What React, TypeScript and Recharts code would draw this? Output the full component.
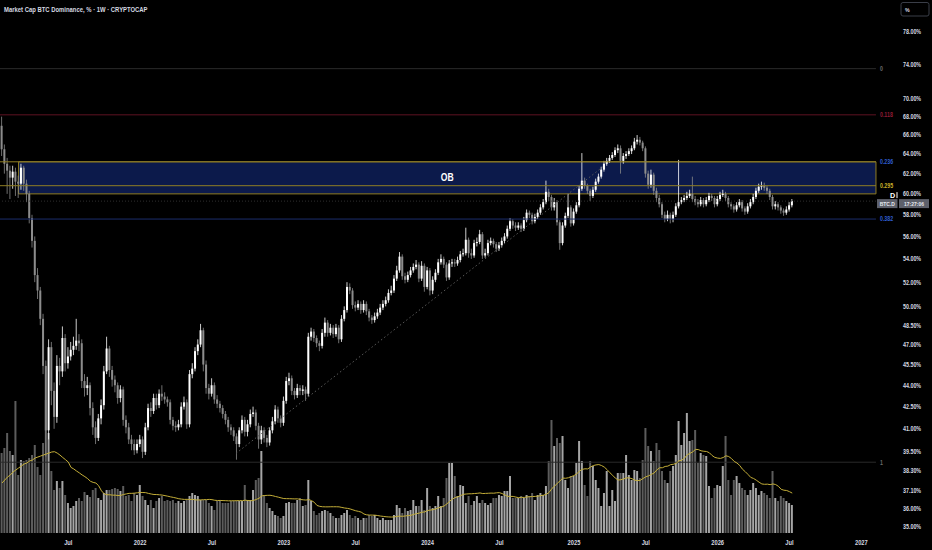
import React from 'react';
import {
  ComposedChart,
  Bar,
  Line,
  XAxis,
  YAxis,
  ReferenceLine,
  ReferenceArea,
  Cell,
} from 'recharts';

type Row = [number, number, number]; // [close, high, low]

// ---------- DATA (weekly) ----------
const FIRST_WEEK_UTC = Date.UTC(2021, 0, 18);
const FIRST_OPEN = 67.0;

const candles2021: Row[] = [
  [64.5, 68.0, 63.8], [63.0, 65.0, 62.0], [62.3, 63.6, 60.0], [61.6, 62.8, 59.5], [62.2, 62.8, 60.5],
  [61.2, 62.6, 59.8], [61.0, 61.8, 59.6], [62.6, 63.0, 60.4], [61.0, 62.8, 60.3], [60.0, 61.4, 59.2],
  [57.7, 60.3, 57.2], [55.6, 58.0, 55.0], [52.6, 56.0, 52.0], [51.3, 53.2, 50.6], [49.0, 51.6, 48.5],
  [45.4, 49.4, 44.8], [40.9, 45.8, 39.2], [46.8, 47.4, 40.3], [43.6, 47.2, 42.6], [41.8, 44.2, 41.0],
  [45.4, 46.2, 41.4], [45.0, 46.0, 44.0], [47.5, 48.4, 44.6], [45.6, 47.8, 45.0], [46.1, 46.8, 45.2],
  [46.6, 47.2, 45.8], [46.9, 47.6, 46.2], [47.3, 49.0, 46.6], [47.1, 47.8, 46.5], [44.3, 47.4, 43.8],
  [43.8, 44.8, 43.2], [44.0, 44.6, 43.3], [42.4, 44.2, 41.9], [41.1, 42.8, 40.6], [40.4, 41.5, 40.0],
  [41.7, 42.0, 40.2], [42.6, 43.0, 41.3], [45.0, 45.4, 42.3], [46.7, 47.6, 44.8], [45.1, 46.9, 44.6],
  [44.4, 45.4, 43.9], [44.0, 44.7, 43.5], [43.1, 44.2, 42.7], [43.7, 44.0, 42.8], [41.6, 43.9, 41.2],
  [41.1, 41.9, 40.7], [40.3, 41.4, 40.0], [40.0, 40.6, 39.6], [39.6, 40.3, 39.3], [40.0, 40.3, 39.4],
];
const candles2022: Row[] = [
  [40.3, 40.6, 39.8], [39.5, 40.5, 39.1], [41.1, 41.4, 39.3], [42.4, 42.7, 40.9], [42.2, 42.8, 41.8],
  [43.1, 43.4, 42.0], [42.6, 43.4, 42.3], [43.4, 43.7, 42.4], [43.2, 44.0, 42.9], [43.0, 43.5, 42.7],
  [42.8, 43.2, 42.5], [41.6, 43.0, 41.3], [41.2, 41.8, 40.9], [41.1, 41.5, 40.8], [41.3, 41.6, 40.9],
  [42.5, 42.8, 41.1], [42.8, 43.2, 42.3], [41.3, 43.0, 41.0], [44.8, 45.1, 41.1], [45.2, 45.6, 44.5],
  [46.5, 46.8, 45.0], [47.0, 47.4, 46.2], [48.1, 48.6, 46.8], [45.5, 48.3, 45.0], [43.8, 45.8, 43.4],
  [43.4, 44.1, 43.0], [44.0, 44.5, 43.2], [43.0, 44.2, 42.7], [42.7, 43.3, 42.4], [42.4, 42.9, 42.1],
  [42.0, 42.6, 41.7], [41.6, 42.2, 41.3], [41.1, 41.8, 40.8], [40.9, 41.3, 40.6], [40.5, 41.1, 40.2],
  [40.0, 40.7, 39.0], [40.9, 41.1, 39.8], [41.6, 41.9, 40.7], [40.8, 41.8, 40.5], [41.3, 41.6, 40.5],
  [42.0, 42.3, 41.1], [42.1, 42.5, 41.8], [41.2, 42.3, 40.9], [40.3, 41.4, 39.7], [40.9, 41.2, 40.0],
  [40.4, 41.1, 40.1], [40.1, 40.6, 39.8], [40.9, 41.1, 39.9], [41.5, 41.8, 40.7], [42.3, 42.6, 41.3],
  [41.7, 42.5, 41.4], [41.4, 41.9, 41.1],
];
const candles2023: Row[] = [
  [42.9, 43.2, 41.2], [44.3, 44.6, 42.7], [44.5, 44.9, 44.0], [43.6, 44.7, 43.3], [43.3, 43.8, 43.0],
  [43.8, 44.1, 43.1], [43.6, 44.0, 43.3], [43.7, 44.0, 43.3], [43.4, 43.9, 42.9], [47.6, 47.9, 43.2],
  [48.0, 48.3, 47.3], [47.5, 48.2, 47.2], [47.1, 47.7, 46.8], [46.9, 47.3, 46.5], [47.9, 48.2, 46.7],
  [48.7, 49.1, 47.6], [47.9, 48.9, 47.6], [48.3, 48.6, 47.7], [47.8, 48.5, 47.5], [48.3, 48.6, 47.6],
  [47.4, 48.5, 47.1], [49.0, 49.3, 47.2], [49.7, 50.0, 48.8], [51.6, 52.0, 49.5], [51.3, 51.9, 51.0],
  [50.1, 51.5, 49.8], [49.9, 50.4, 49.6], [50.2, 50.5, 49.7], [49.7, 50.4, 49.4], [50.2, 50.5, 49.5],
  [49.6, 50.4, 49.3], [49.1, 49.8, 48.8], [48.9, 49.3, 48.6], [49.2, 49.5, 48.7], [49.5, 49.8, 49.0],
  [49.9, 50.2, 49.3], [50.2, 50.5, 49.7], [50.5, 50.8, 50.0], [51.1, 51.4, 50.3], [51.3, 51.7, 50.9],
  [52.3, 52.6, 51.1], [53.0, 53.4, 52.1], [54.2, 54.6, 52.8], [52.5, 54.4, 52.2], [52.2, 52.8, 51.9],
  [52.6, 52.9, 52.0], [53.0, 53.3, 52.4], [53.3, 53.6, 52.8], [53.5, 53.9, 53.1], [52.3, 53.7, 52.0],
  [53.4, 53.8, 52.1], [51.6, 53.6, 51.2],
];
const candles2024: Row[] = [
  [53.0, 53.3, 51.4], [51.3, 53.2, 50.9], [52.2, 52.5, 51.0], [52.8, 53.1, 52.0], [53.7, 54.0, 52.6],
  [54.0, 54.4, 53.5], [53.5, 54.2, 53.2], [52.4, 53.7, 52.1], [53.6, 53.9, 52.2], [53.7, 54.0, 53.3],
  [53.6, 54.0, 53.3], [53.9, 54.2, 53.4], [54.4, 54.7, 53.7], [54.5, 54.9, 54.2], [55.7, 56.8, 54.3],
  [54.5, 55.9, 54.1], [54.3, 54.9, 54.0], [55.4, 55.7, 54.1], [55.5, 55.9, 55.1], [56.2, 56.6, 55.3],
  [54.3, 56.4, 54.0], [54.5, 54.9, 54.1], [55.4, 55.7, 54.3], [55.6, 55.9, 55.2], [55.3, 55.8, 55.0],
  [54.9, 55.5, 54.6], [55.2, 55.5, 54.7], [55.6, 55.9, 55.0], [56.0, 56.3, 55.4], [56.7, 57.0, 55.8],
  [57.4, 57.7, 56.5], [57.0, 57.6, 56.7], [56.8, 57.3, 56.5], [57.0, 57.3, 56.6], [56.7, 57.2, 56.4],
  [57.5, 57.8, 56.5], [58.2, 58.5, 57.3], [58.0, 58.4, 57.7], [57.4, 58.2, 57.1], [57.8, 58.1, 57.2],
  [58.2, 58.5, 57.6], [58.7, 59.0, 58.0], [59.2, 59.5, 58.5], [60.2, 61.3, 59.0], [59.7, 60.5, 59.3],
  [58.7, 59.9, 58.4], [59.2, 59.6, 58.4], [57.3, 59.4, 57.0], [55.4, 57.5, 54.8], [57.0, 57.3, 55.2],
  [57.9, 58.2, 56.8], [58.7, 60.0, 57.7],
];
const candles2025: Row[] = [
  [57.2, 58.9, 56.9], [58.3, 58.6, 57.0], [58.9, 59.2, 58.1], [60.5, 60.8, 58.7], [61.3, 64.1, 60.3],
  [60.8, 61.6, 60.5], [60.3, 61.0, 60.0], [59.8, 60.5, 59.3], [60.4, 60.7, 59.6], [61.2, 61.5, 60.2],
  [61.7, 62.0, 61.0], [62.4, 62.7, 61.5], [63.0, 63.3, 62.2], [63.3, 63.6, 62.8], [63.6, 63.9, 63.1],
  [63.9, 64.2, 63.4], [64.4, 64.7, 63.7], [64.6, 65.0, 64.1], [63.3, 64.9, 62.0], [63.8, 64.1, 63.0],
  [64.0, 64.3, 63.5], [64.3, 64.6, 63.8], [64.6, 64.9, 64.0], [65.3, 65.7, 64.4], [65.5, 66.0, 65.0],
  [65.2, 65.8, 64.9], [64.6, 65.4, 64.3], [62.0, 64.8, 61.6], [60.9, 62.3, 60.5], [61.9, 62.4, 60.6],
  [60.3, 62.1, 59.9], [59.6, 60.6, 59.2], [59.0, 59.9, 58.7], [58.0, 59.2, 57.7], [57.6, 58.3, 57.3],
  [58.0, 58.4, 57.4], [57.6, 58.2, 57.2], [58.0, 58.3, 57.3], [58.8, 59.1, 57.8], [59.2, 63.4, 58.6],
  [59.4, 59.7, 59.0], [59.6, 59.9, 59.2], [59.8, 60.2, 59.4], [60.0, 60.4, 59.6], [59.5, 61.7, 59.2],
  [59.2, 59.8, 58.9], [59.0, 59.5, 58.7], [59.4, 59.7, 58.8], [59.0, 59.6, 58.7], [59.4, 59.7, 58.8],
  [59.8, 60.1, 59.2], [59.6, 60.0, 59.3],
];
const candles2026: Row[] = [
  [59.0, 59.8, 58.7], [59.5, 59.8, 58.8], [59.9, 60.2, 59.3], [60.0, 60.4, 59.7], [59.6, 60.2, 59.3],
  [59.0, 59.8, 58.7], [58.8, 59.2, 58.5], [58.5, 59.0, 58.2], [58.9, 59.2, 58.3], [59.2, 59.5, 58.7],
  [58.6, 59.4, 58.3], [58.3, 58.8, 58.0], [58.8, 59.1, 58.1], [59.2, 59.5, 58.6], [59.7, 60.0, 59.0],
  [60.3, 60.6, 59.5], [60.7, 61.0, 60.1], [60.8, 61.2, 60.4], [60.6, 61.1, 60.3], [60.3, 60.8, 60.0],
  [59.7, 60.5, 59.4], [58.8, 59.9, 58.5], [59.0, 59.3, 58.5], [58.7, 59.2, 58.4], [58.4, 58.9, 58.1],
  [58.2, 58.6, 57.9], [58.5, 58.8, 58.0], [58.9, 59.2, 58.3], [59.3, 59.5, 58.7],
];

// volume (relative units)
const volume2021 = [
  80, 85, 100, 82, 78, 132, 58, 73, 72, 73, 75, 78, 88, 66, 58, 90, 133, 100, 62, 43,
  52, 45, 52, 38, 30, 25, 27, 32, 35, 32, 41, 38, 36, 43, 45, 35, 33, 40, 43, 43,
  44, 45, 44, 42, 47, 37, 38, 32, 40, 38,
];
const volume2022 = [
  48, 37, 33, 28, 33, 25, 32, 35, 37, 32, 33, 32, 33, 30, 32, 30, 32, 33, 37, 40,
  38, 37, 33, 33, 33, 30, 27, 23, 32, 33, 30, 30, 30, 32, 32, 32, 32, 32, 48, 33,
  33, 43, 53, 55, 82, 38, 30, 25, 22, 18, 17, 15,
];
const volume2023 = [
  17, 30, 31, 30, 30, 33, 35, 27, 28, 53, 32, 22, 18, 20, 22, 23, 22, 20, 17, 15,
  15, 18, 20, 23, 18, 15, 17, 15, 13, 15, 15, 18, 17, 18, 15, 13, 15, 13, 13, 13,
  18, 28, 25, 20, 25, 22, 23, 33, 27, 27, 33, 23,
];
const volume2024 = [
  45, 27, 25, 27, 37, 27, 35, 55, 70, 70, 57, 37, 48, 47, 30, 37, 28, 32, 37, 30,
  33, 30, 28, 30, 35, 35, 38, 37, 42, 42, 57, 35, 35, 35, 37, 35, 38, 37, 40, 33,
  38, 40, 38, 47, 72, 113, 87, 95, 90, 97, 53, 45,
];
const volume2025 = [
  57, 57, 70, 92, 72, 48, 37, 72, 67, 53, 45, 27, 40, 62, 27, 43, 32, 60, 60, 60,
  78, 58, 53, 63, 62, 55, 73, 105, 87, 82, 72, 90, 83, 62, 53, 50, 62, 67, 78, 112,
  88, 100, 120, 92, 93, 103, 70, 80, 78, 77, 47, 35,
];
const volume2026 = [
  45, 48, 47, 67, 97, 53, 38, 53, 57, 50, 45, 43, 38, 43, 50, 45, 38, 42, 40, 38,
  35, 62, 35, 32, 37, 35, 32, 30, 28,
];
// volume MA as drawn for the first weeks (window reaches before the visible range)
const volumeMaStart = [50, 53, 56, 58, 61, 63, 65, 67, 69, 70, 72, 73, 75, 76, 77, 78, 79, 80, 81];
const MA_LENGTH = 20;

const priceTicks = [35, 36, 37.1, 38.3, 39.5, 41, 42.5, 44, 45.5, 47, 48.5, 50, 52, 54, 56, 58, 60, 62, 64, 66, 68, 70, 74, 78];
const axisMonths: [number, number][] = [
  [2021, 6], [2022, 0], [2022, 6], [2023, 0], [2023, 6], [2024, 0],
  [2024, 6], [2025, 0], [2025, 6], [2026, 0], [2026, 6], [2027, 0],
];

const fibLabels = ['0', '0.118', '0.236', '0.295', '0.382', '1'];
const fibValues = [73.5, 68.2, 63.2, 60.8, 57.6, 38.84];
const fibEndWeek = 316.3;
const obZone = { startWeek: 6, endWeek: 316.3, low: 60.0, high: 63.2, label: 'OB' };
const trendPoints: [number, number][] = [[84.7, 39.4], [217.5, 62.7]];
const badgeTexts = ['BTC.D', '17:27:06'];
const titleText = 'Market Cap BTC Dominance, % \u00b7 1W \u00b7 CRYPTOCAP';

// ---------- derived table ----------
const rows: Row[] = [...candles2021, ...candles2022, ...candles2023, ...candles2024, ...candles2025, ...candles2026];
const volumes = [...volume2021, ...volume2022, ...volume2023, ...volume2024, ...volume2025, ...volume2026];

let prevClose = FIRST_OPEN;
const data = rows.map(([close, high, low], i) => {
  const open = prevClose;
  prevClose = close;
  let ma: number;
  if (i < volumeMaStart.length) ma = volumeMaStart[i];
  else {
    let s = 0;
    for (let k = i - MA_LENGTH + 1; k <= i; k++) s += volumes[k];
    ma = s / MA_LENGTH;
  }
  return { i, open, close, high, low, range: [low, high], vol: volumes[i], up: close >= open, ma };
});
const lastClose = rows[rows.length - 1][0];

const WEEK_MS = 7 * 86400000;
const xTicks = axisMonths.map(([y, m]) => ({
  i: Math.ceil((Date.UTC(y, m, 1) - FIRST_WEEK_UTC) / WEEK_MS),
  label: m === 0 ? String(y) : 'Jul',
}));
const xTickLabel = new Map(xTicks.map((t) => [t.i, t.label]));

// ---------- styling ----------
const W = 932;
const H = 550;
const X_DOMAIN: [number, number] = [-0.72, 325.0];
const Y_DOMAIN: [number, number] = [34.63, 82.15];
const VOL_DOMAIN: [number, number] = [0, 533];
const FONT = '"Liberation Sans", Arial, sans-serif';
const AXIS_TEXT = '#d6d9e0';
const UP = '#ffffff';
const DOWN = '#8c8c8c';
const VOL_UP = '#a6a6a6';
const VOL_DOWN = '#5c5c5c';
const BOX_EDGE = '#8f7e24';
const fibStyle = [
  { line: '#2a2a2a', text: '#6a6a6a' },
  { line: '#5e1222', text: '#8e1b34' },
  { line: BOX_EDGE, text: '#2f5ed0' },
  { line: BOX_EDGE, text: '#c9b12a' },
  { line: '#1b2d6c', text: '#2f5ed0' },
  { line: '#2a2a2a', text: '#6a6a6a' },
];

const NText = ({ x, y, size, fill, anchor = 'start', sx = 0.86, weight = 400, children }: any) => (
  <text
    transform={`translate(${x},${y}) scale(${sx},1)`}
    x={0}
    y={0}
    fontSize={size}
    fill={fill}
    fontFamily={FONT}
    fontWeight={weight}
    textAnchor={anchor}
  >
    {children}
  </text>
);

const XTick = (p: any) => (
  <NText x={p.x} y={p.y + 12.2} size={7} fill={AXIS_TEXT} anchor="middle" weight={700} sx={0.82}>
    {xTickLabel.get(p.payload.value) ?? ''}
  </NText>
);

const YTick = (p: any) => (
  <NText x={p.x + 3} y={p.y + 2.4} size={6.7} fill={AXIS_TEXT} weight={700} sx={0.8}>
    {`${Number(p.payload.value).toFixed(2)}%`}
  </NText>
);

const Candle = (props: any) => {
  const { x, y, width, height, payload } = props;
  if (!payload || x == null || y == null) return null;
  const { open, close, high, low } = payload;
  const lh = Math.log(high);
  const ll = Math.log(low);
  const toY = (v: number) => (height > 0 && lh !== ll ? y + ((lh - Math.log(v)) / (lh - ll)) * height : y);
  const yo = toY(open);
  const yc = toY(close);
  const top = Math.min(yo, yc);
  const bh = Math.max(0.9, Math.abs(yo - yc));
  const color = close >= open ? UP : DOWN;
  const cx = x + width / 2;
  return (
    <g>
      <line x1={cx} x2={cx} y1={y} y2={y + Math.max(height, 0.5)} stroke={color} strokeWidth={0.8} />
      <rect x={x} y={top} width={width} height={bh} fill={color} />
    </g>
  );
};

const fibLabel = (idx: number) => (props: any) => {
  const vb = props.viewBox || {};
  const xr = (vb.x ?? 0) + (vb.width ?? 0) + 4;
  const yc = (vb.y ?? 0) + (vb.height ?? 0) / 2 + 2.3;
  return (
    <NText x={xr} y={yc} size={6.6} fill={fibStyle[idx].text} weight={700} sx={0.8}>
      {fibLabels[idx]}
    </NText>
  );
};

const obLabel = (props: any) => {
  const vb = props.viewBox || {};
  return (
    <NText x={vb.x + vb.width / 2} y={vb.y + vb.height / 2 + 3.6} size={10} fill="#ffffff" anchor="middle" sx={0.86} weight={700}>
      {obZone.label}
    </NText>
  );
};

const priceBadge = (props: any) => {
  const vb = props.viewBox || {};
  const right = (vb.x ?? 0) + (vb.width ?? 0);
  const y = vb.y ?? 0;
  return (
    <g>
      <NText x={right - 10} y={y - 3} size={8} fill="#ffffff" weight={700} sx={0.9}>D</NText>
      <rect x={right - 3.5} y={y - 9} width={1} height={6} fill="#ffffff" />
      <rect x={right - 23} y={y - 2} width={20.5} height={9} fill="#5d606b" />
      <NText x={right - 12.8} y={y + 4.6} size={6.2} fill="#e6e8ee" anchor="middle" weight={700} sx={0.8}>{badgeTexts[0]}</NText>
      <rect x={right - 1} y={y - 2} width={30} height={9} fill="#5d606b" />
      <NText x={right + 14} y={y + 4.6} size={6.2} fill="#e6e8ee" anchor="middle" weight={700} sx={0.8}>{badgeTexts[1]}</NText>
    </g>
  );
};

export default function App() {
  return (
    <div style={{ position: 'fixed', left: 0, top: 0, right: 0, bottom: 0, background: '#000', overflow: 'hidden' }}>
      <div style={{ position: 'absolute', left: 0, top: 0, width: W, height: H }}>
        <ComposedChart width={W} height={H} data={data} margin={{ top: 0, right: 0, bottom: 0, left: 0 }}>
          <XAxis
            xAxisId="p"
            dataKey="i"
            type="number"
            domain={X_DOMAIN}
            allowDataOverflow
            ticks={xTicks.map((t) => t.i)}
            interval={0}
            tick={XTick}
            tickSize={0}
            tickMargin={0}
            axisLine={false}
            tickLine={false}
            height={17}
          />
          <XAxis xAxisId="v" dataKey="i" type="number" domain={X_DOMAIN} allowDataOverflow hide />
          <YAxis
            yAxisId="p"
            orientation="right"
            scale="log"
            domain={Y_DOMAIN}
            allowDataOverflow
            ticks={priceTicks}
            interval={0}
            width={32}
            tick={YTick}
            tickSize={0}
            tickMargin={0}
            axisLine={false}
            tickLine={false}
          />
          <YAxis yAxisId="v" domain={VOL_DOMAIN} allowDataOverflow hide />

          <ReferenceArea
            xAxisId="p"
            yAxisId="p"
            x1={obZone.startWeek}
            x2={obZone.endWeek}
            y1={obZone.low}
            y2={obZone.high}
            fill="#0c1a4b"
            fillOpacity={1}
            stroke={BOX_EDGE}
            strokeWidth={1}
            label={obLabel}
            ifOverflow="visible"
          />

          {fibValues.map((v, idx) => (
            <ReferenceLine
              key={fibLabels[idx]}
              xAxisId="p"
              yAxisId="p"
              segment={[
                { x: X_DOMAIN[0], y: v },
                { x: fibEndWeek, y: v },
              ]}
              stroke={fibStyle[idx].line}
              strokeWidth={1}
              label={fibLabel(idx)}
              ifOverflow="visible"
            />
          ))}

          <ReferenceLine
            xAxisId="p"
            yAxisId="p"
            segment={[
              { x: trendPoints[0][0], y: trendPoints[0][1] },
              { x: trendPoints[1][0], y: trendPoints[1][1] },
            ]}
            stroke="#5a5a5a"
            strokeDasharray="1.5 2.5"
            strokeWidth={1}
            ifOverflow="visible"
          />

          <ReferenceLine
            xAxisId="p"
            yAxisId="p"
            y={lastClose}
            stroke="#3a3a3a"
            strokeDasharray="1 2"
            strokeWidth={0.8}
            label={priceBadge}
          />

          <Bar xAxisId="v" yAxisId="v" dataKey="vol" barSize={2} isAnimationActive={false}>
            {data.map((d) => (
              <Cell key={d.i} fill={d.up ? VOL_UP : VOL_DOWN} />
            ))}
          </Bar>
          <Line
            xAxisId="v"
            yAxisId="v"
            dataKey="ma"
            stroke="#c4ae38"
            strokeWidth={1}
            dot={false}
            activeDot={false}
            isAnimationActive={false}
          />
          <Bar
            xAxisId="p"
            yAxisId="p"
            dataKey="range"
            barSize={2}
            shape={(p: any) => <Candle {...p} />}
            isAnimationActive={false}
          />
        </ComposedChart>

        <svg width={W} height={H} style={{ position: 'absolute', left: 0, top: 0, pointerEvents: 'none' }}>
          <NText x={4} y={11.5} size={7.2} fill={AXIS_TEXT} sx={0.82} weight={700}>{titleText}</NText>
          <rect x={901} y={2.5} width={28} height={13.5} rx={2} fill="#000" stroke="#3a3e48" strokeWidth={1} />
          <NText x={905} y={11.5} size={6.2} fill={AXIS_TEXT} weight={700} sx={0.85}>%</NText>
        </svg>
      </div>
    </div>
  );
}
